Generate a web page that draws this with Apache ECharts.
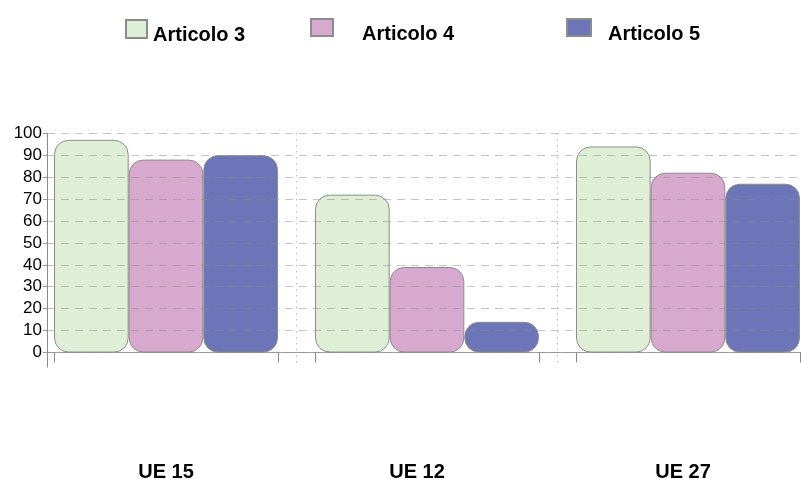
<!DOCTYPE html>
<html>
<head>
<meta charset="utf-8">
<script src="https://cdn.jsdelivr.net/npm/echarts@6/dist/echarts.min.js"></script>
<style>
html,body{margin:0;padding:0;background:#fff;}
#c{width:801px;height:479px;}
</style>
</head>
<body>
<div id="c"></div>
<script>
const categories = ['UE 15', 'UE 12', 'UE 27'];
const seriesNames = ['Articolo 3', 'Articolo 4', 'Articolo 5'];
const articolo3 = [97, 72, 94];
const articolo4 = [88, 39, 82];
const articolo5 = [90, 14, 77];
const yMin = 0, yMax = 100, yStep = 10;

const colors = ['#dfefd6', '#d8a9cf', '#6b75b7'];
const gapPct = 14.2;
const half = gapPct / 200;
const edgeTicks = [];
categories.forEach((c, i) => { edgeTicks.push(i + half, i + 1 - half); });

const font = "'Liberation Sans', Arial, sans-serif";
const chart = echarts.init(document.getElementById('c'));

function legend(i, left, top, pad, w, h) {
  return {
    data: [seriesNames[i]], left: left, top: top, padding: 0,
    itemWidth: w, itemHeight: h, icon: 'rect', selectedMode: false,
    formatter: '{t|{name}}',
    textStyle: {
      fontFamily: font, fontWeight: 'bold', fontSize: 20, color: '#000',
      rich: {t: {fontFamily: font, fontWeight: 'bold', fontSize: 20, color: '#000', padding: [13, 0, 0, pad]}}
    }
  };
}

const catLabelStyle = {fontFamily: font, fontWeight: 'bold', fontSize: 20, color: '#000'};

chart.setOption({
  animation: false,
  legend: [
    legend(0, 125, 19, 1, 21, 18),
    legend(1, 310, 18, 24, 22, 17),
    legend(2, 566, 18, 12, 24, 17)
  ],
  grid: [
    {left: 35.5, width: 783, top: 133.3, height: 233.7, outerBoundsMode: 'none', containLabel: false},
    {left: 47, right: 0, top: 133.3, height: 219.2, outerBoundsMode: 'none', containLabel: false}
  ],
  xAxis: [
    {type: 'category', gridIndex: 0, data: categories,
     axisLine: {show: false, onZero: false}, axisTick: {show: false},
     axisLabel: {margin: 95, ...catLabelStyle,
       formatter: (v, i) => '{c' + i + '|' + v + '}',
       rich: {
         c0: {...catLabelStyle},
         c1: {...catLabelStyle, padding: [0, 20, 0, 0]},
         c2: {...catLabelStyle, padding: [0, 10, 0, 0]}
       }},
     splitLine: {show: true, showMinLine: false, showMaxLine: false, lineStyle: {type: [1, 5], color: '#9a9a9a', width: 1}}},
    {type: 'category', gridIndex: 1, data: [''],
     axisLine: {show: true, lineStyle: {color: '#a0a0a0', width: 1}},
     axisTick: {show: false}, axisLabel: {show: false}, splitLine: {show: false}},
    {type: 'value', gridIndex: 0, min: 0, max: categories.length,
     axisLine: {show: false, onZero: true},
     axisTick: {show: true, inside: true, length: 10, customValues: edgeTicks, lineStyle: {color: '#888'}},
     axisLabel: {show: false}, splitLine: {show: false}}
  ],
  yAxis: [
    {type: 'value', gridIndex: 0, min: -6.6, max: yMax, offset: -11.5,
     axisLine: {show: true, lineStyle: {color: '#8a8a8a', width: 1}},
     axisTick: {show: false}, axisLabel: {show: false}, splitLine: {show: false}},
    {type: 'value', gridIndex: 1, min: yMin, max: yMax, interval: yStep, z: 5,
     axisLine: {show: false},
     axisTick: {show: true, length: 4, lineStyle: {color: '#999'}},
     axisLabel: {margin: 5, fontFamily: font, fontSize: 17, color: '#000'},
     splitLine: {show: true, lineStyle: {type: [8, 6], color: 'rgba(140,140,140,0.5)', width: 1}}}
  ],
  series: [articolo3, articolo4, articolo5].map((d, i) => ({
    name: seriesNames[i], type: 'bar', xAxisIndex: 0, yAxisIndex: 0,
    data: d, barGap: '0%', barCategoryGap: gapPct + '%',
    itemStyle: {color: colors[i], borderColor: '#8c8c8c', borderWidth: 1, borderRadius: 14}
  }))
});
</script>
</body>
</html>
